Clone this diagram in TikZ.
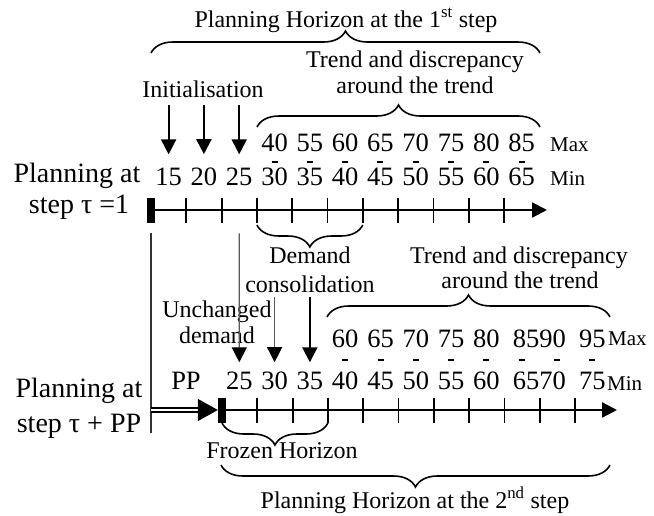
\documentclass[tikz,border=0pt]{standalone}
\usepackage{fontspec}
\setmainfont{Liberation Serif}
\usetikzlibrary{arrows.meta,decorations.pathreplacing,calc}

\tikzset{
  lbl/.style={font=\fontsize{24}{26}\selectfont, inner sep=0pt, anchor=base},
  big/.style={font=\fontsize{28}{30}\selectfont, inner sep=0pt, anchor=base},
  num/.style={font=\fontsize{26.5}{28}\selectfont, inner sep=0pt, anchor=base},
  mmlbl/.style={font=\fontsize{21}{24}\selectfont, inner sep=0pt, anchor=base west},
  barbox/.style={fill=black, minimum width=8pt, minimum height=25pt, inner sep=0pt},
  timeaxis/.style={line width=2.2pt, -{Triangle[length=15pt,width=15pt]}},
  axtick/.style={line width=1.8pt},
  minusmark/.style={line width=1.4pt},
  arr/.style={line width=2.2pt, -{Triangle[length=15pt,width=15pt]}},
  thinarr/.style={line width=1.4pt, black!65, -{Triangle[length=15pt,width=15pt,color=black]}},
  shiftline/.style={line width=1.4pt, black!80},
  dbl/.style={double, double distance=2.5pt, line width=1.4pt, -{Triangle[length=20pt,width=22pt]}},
  brc/.style={line width=1.6pt, decorate, decoration={brace, amplitude=22pt}}
}

\begin{document}
\begin{tikzpicture}[x=1pt,y=-1pt]
        \useasboundingbox (0,0) rectangle (654,515);

        % Planning Horizon at the 1st step
        \node[lbl] (ph1) at (346,27) {Planning Horizon at the 1\textsuperscript{st} step};
        \draw[brc] (151,53) -- (540,53);

        % Trend (1st step)
        \node[lbl] (tr1) at (415,67) {Trend and discrepancy};
        \node[lbl] (ar1) at (415,93) {around the trend};
        \draw[brc] (257,127) -- (540,127);

        % Initialisation
        \node[lbl] (init) at (203,97) {Initialisation};

        % Planning at step tau = 1
        \node[big] (pl1) at (77,182) {Planning at};
        \node[big] (st1) at (79,213) {step τ =1};

        % Max / Min (1st step)
        \foreach \v [count=\k from 3] in {40,55,60,65,70,75,80,85} {
          \node[num] (u\k) at (168.6+35.3*\k,151) {\v};
          \draw[minusmark] (165.6+35.3*\k,162) -- ++(6,0);
        }
        \foreach \v [count=\k from 0] in {15,20,25,30,35,40,45,50,55,60,65}
          \node[num] (a\k) at (168.6+35.3*\k,185) {\v};
        \node[mmlbl] (max1) at (550,151) {Max};
        \node[mmlbl] (min1) at (550,185) {Min};

        % Time axis (1st step)
        \node[barbox] (bar1) at (151,210) {};
        \coordinate (end1) at (547,210);
        \draw[timeaxis] (bar1.center) -- (end1);
        \foreach \j in {1,...,10}
          \draw[axtick] (151+35.3*\j,197.5) -- ++(0,25);

        % Initialisation arrows
        \foreach \k in {0,1,2}
          \draw[arr] ($(a\k |- init.south)+(0,8)$) -- ($(a\k.north)+(0,-13)$);

        % Demand consolidation
        \draw[brc] (362.8,225) -- (256.9,225);
        \node[lbl] (dem) at (310,263) {Demand};
        \node[lbl] (cons) at (310,292) {consolidation};

        % Trend (2nd step)
        \node[lbl] (tr2) at (519,263) {Trend and discrepancy};
        \node[lbl] (ar2) at (520,288) {around the trend};
        \draw[brc] (327,317) -- (610,317);

        % Unchanged demand
        \node[lbl] (unch) at (217,317) {Unchanged};
        \node[lbl] (udem) at (217,343) {demand};

        % Max / Min (2nd step)
        \foreach \v [count=\k from 3] in {60,65,70,75,80}
          \node[num] (v\k) at (239.3+35.3*\k,347) {\v};
        \node[num] (v8) at (239.3+35.3*8.5,347) {8590};
        \node[num] (v10) at (239.3+35.3*10,347) {95};
        \foreach \k in {3,...,10}
          \draw[minusmark] (236.3+35.3*\k,360) -- ++(6,0);
        \foreach \v [count=\k from 0] in {25,30,35,40,45,50,55,60}
          \node[num] (b\k) at (239.3+35.3*\k,389) {\v};
        \node[num] (b8) at (239.3+35.3*8.5,389) {6570};
        \node[num] (b10) at (239.3+35.3*10,389) {75};
        \node[num] (pp) at (186,389) {PP};
        \node[mmlbl] (max2) at (608,345) {Max};
        \node[mmlbl] (min2) at (607,390) {Min};

        % Planning at step tau + PP
        \node[big] (pl2) at (79,397) {Planning at};
        \node[big] (st2) at (79,432) {step τ + PP};

        % Time axis (2nd step)
        \node[barbox] (bar2) at (222,410) {};
        \coordinate (end2) at (617,410);
        \draw[timeaxis] (bar2.center) -- (end2);
        \foreach \j in {1,...,10}
          \draw[axtick] (222+35.3*\j,397.5) -- ++(0,25);

        % Shift by PP
        \coordinate (lbot) at (151,433);
        \draw[shiftline] ($(bar1.south)+(0,10)$) -- (lbot);
        \draw[dbl] (bar1 |- bar2) -- (bar2.west);

        % Arrows to the 2nd step
        \draw[thinarr] ($(a2.south)+(0,48)$) -- ($(b0.north)+(0,-9)$);
        \draw[thinarr] ($(b1 |- cons.south)+(0,5)$) -- ($(b1.north)+(0,-9)$);
        \draw[arr] ($(b2 |- cons.south)+(0,5)$) -- ($(b2.north)+(0,-9)$);

        % Frozen Horizon
        \draw[brc] (327.9,423) -- (222,423);
        \node[lbl] (froz) at (282,458) {Frozen Horizon};

        % Planning Horizon at the 2nd step
        \draw[brc] (610,465) -- (221,465);
        \node[lbl] (ph2) at (415,508) {Planning Horizon at the 2\textsuperscript{nd} step};
\end{tikzpicture}
\end{document}
